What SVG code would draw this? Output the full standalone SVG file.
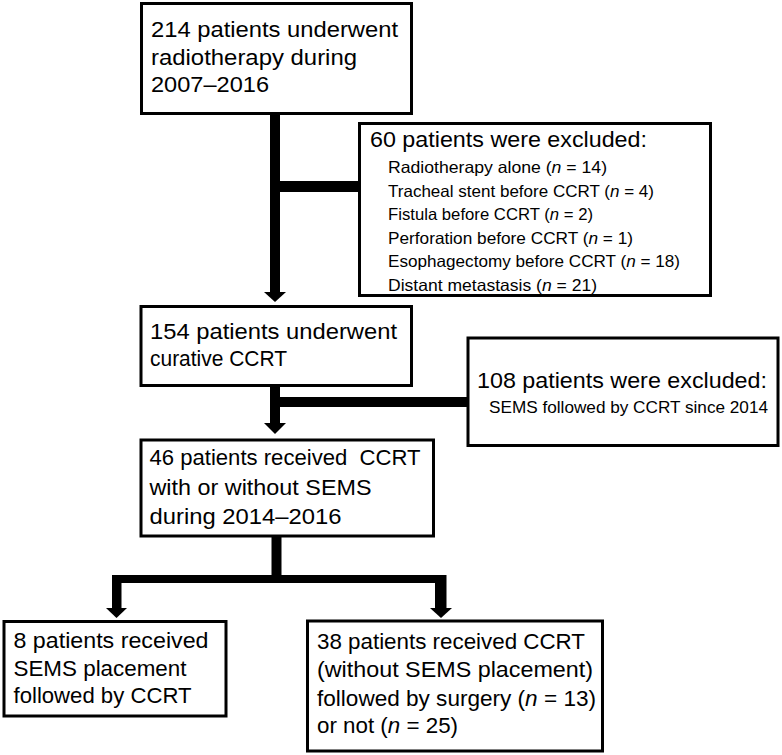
<svg xmlns="http://www.w3.org/2000/svg" width="782" height="755" viewBox="0 0 782 755">
<style>
.box{fill:#fff;stroke:#000;stroke-width:3}
.m{font-family:"Liberation Sans",Arial,sans-serif;font-size:22px;fill:#000}
.s{font-family:"Liberation Sans",Arial,sans-serif;font-size:16.5px;fill:#000}
.i{font-style:italic}
.c{fill:#000;stroke:none}
</style>
<rect width="782" height="755" fill="#fff"/>
<g id="connectors">
<path class="c" d="M270 115 H280 V292 H270 Z"/>
<polygon class="c" points="264,292 286,292 275,302"/>
<path class="c" d="M280 181 H359 V192 H280 Z"/>
<path class="c" d="M270 386 H280 V423 H270 Z"/>
<polygon class="c" points="264,423 286,423 275,434"/>
<path class="c" d="M280 397 H468 V407 H280 Z"/>
<path class="c" d="M271.5 536 H281.5 V583 H271.5 Z"/>
<path class="c" d="M112 575 H446.5 V583 H112 Z"/>
<path class="c" d="M112 583 H121.5 V608 H112 Z"/>
<polygon class="c" points="106,608 127,608 116.5,618"/>
<path class="c" d="M435 583 H446.5 V608 H435 Z"/>
<polygon class="c" points="430,608 452,608 441,618"/>
</g>
<g id="n1">
<rect class="box" x="141.5" y="3.5" width="270" height="110"/>
<text class="m" x="151" y="37" textLength="247" lengthAdjust="spacingAndGlyphs">214 patients underwent</text>
<text class="m" x="151" y="65" textLength="206" lengthAdjust="spacingAndGlyphs">radiotherapy during</text>
<text class="m" x="151" y="92" textLength="118" lengthAdjust="spacingAndGlyphs">2007–2016</text>
</g>
<g id="n2">
<rect class="box" x="359.5" y="123.5" width="351" height="172"/>
<text class="m" x="370" y="147" textLength="277" lengthAdjust="spacingAndGlyphs">60 patients were excluded:</text>
<text class="s" x="388" y="173" textLength="219" lengthAdjust="spacingAndGlyphs">Radiotherapy alone (<tspan class="i">n</tspan> = 14)</text>
<text class="s" x="388" y="197" textLength="266" lengthAdjust="spacingAndGlyphs">Tracheal stent before CCRT (<tspan class="i">n</tspan> = 4)</text>
<text class="s" x="388" y="220" textLength="205" lengthAdjust="spacingAndGlyphs">Fistula before CCRT (<tspan class="i">n</tspan> = 2)</text>
<text class="s" x="388" y="244" textLength="245" lengthAdjust="spacingAndGlyphs">Perforation before CCRT (<tspan class="i">n</tspan> = 1)</text>
<text class="s" x="388" y="267" textLength="292" lengthAdjust="spacingAndGlyphs">Esophagectomy before CCRT (<tspan class="i">n</tspan> = 18)</text>
<text class="s" x="388" y="291" textLength="209" lengthAdjust="spacingAndGlyphs">Distant metastasis (<tspan class="i">n</tspan> = 21)</text>
</g>
<g id="n3">
<rect class="box" x="141" y="306.5" width="270.5" height="79"/>
<text class="m" x="150" y="339" textLength="247" lengthAdjust="spacingAndGlyphs">154 patients underwent</text>
<text class="m" x="150" y="366" textLength="137" lengthAdjust="spacingAndGlyphs">curative CCRT</text>
</g>
<g id="n4">
<rect class="box" x="468" y="338" width="310" height="107.5"/>
<text class="m" x="477" y="388" textLength="290" lengthAdjust="spacingAndGlyphs">108 patients were excluded:</text>
<text class="s" x="489" y="413" textLength="279" lengthAdjust="spacingAndGlyphs">SEMS followed by CCRT since 2014</text>
</g>
<g id="n5">
<rect class="box" x="141" y="440" width="292.5" height="96"/>
<text class="m" x="149.5" y="465" textLength="271" lengthAdjust="spacingAndGlyphs" style="white-space:pre">46 patients received  CCRT</text>
<text class="m" x="149.5" y="495" textLength="222" lengthAdjust="spacingAndGlyphs">with or without SEMS</text>
<text class="m" x="149.5" y="524" textLength="192" lengthAdjust="spacingAndGlyphs">during 2014–2016</text>
</g>
<g id="n6">
<rect class="box" x="4" y="621.5" width="222" height="94.5"/>
<text class="m" x="13.5" y="648" textLength="195" lengthAdjust="spacingAndGlyphs">8 patients received</text>
<text class="m" x="13.5" y="676" textLength="173" lengthAdjust="spacingAndGlyphs">SEMS placement</text>
<text class="m" x="13.5" y="703" textLength="178" lengthAdjust="spacingAndGlyphs">followed by CCRT</text>
</g>
<g id="n7">
<rect class="box" x="307.5" y="621" width="295" height="130"/>
<text class="m" x="317" y="649" textLength="268" lengthAdjust="spacingAndGlyphs">38 patients received CCRT</text>
<text class="m" x="317" y="677" textLength="276" lengthAdjust="spacingAndGlyphs">(without SEMS placement)</text>
<text class="m" x="317" y="706" textLength="279" lengthAdjust="spacingAndGlyphs">followed by surgery (<tspan class="i">n</tspan> = 13)</text>
<text class="m" x="317" y="733" textLength="141" lengthAdjust="spacingAndGlyphs">or not (<tspan class="i">n</tspan> = 25)</text>
</g>
</svg>
